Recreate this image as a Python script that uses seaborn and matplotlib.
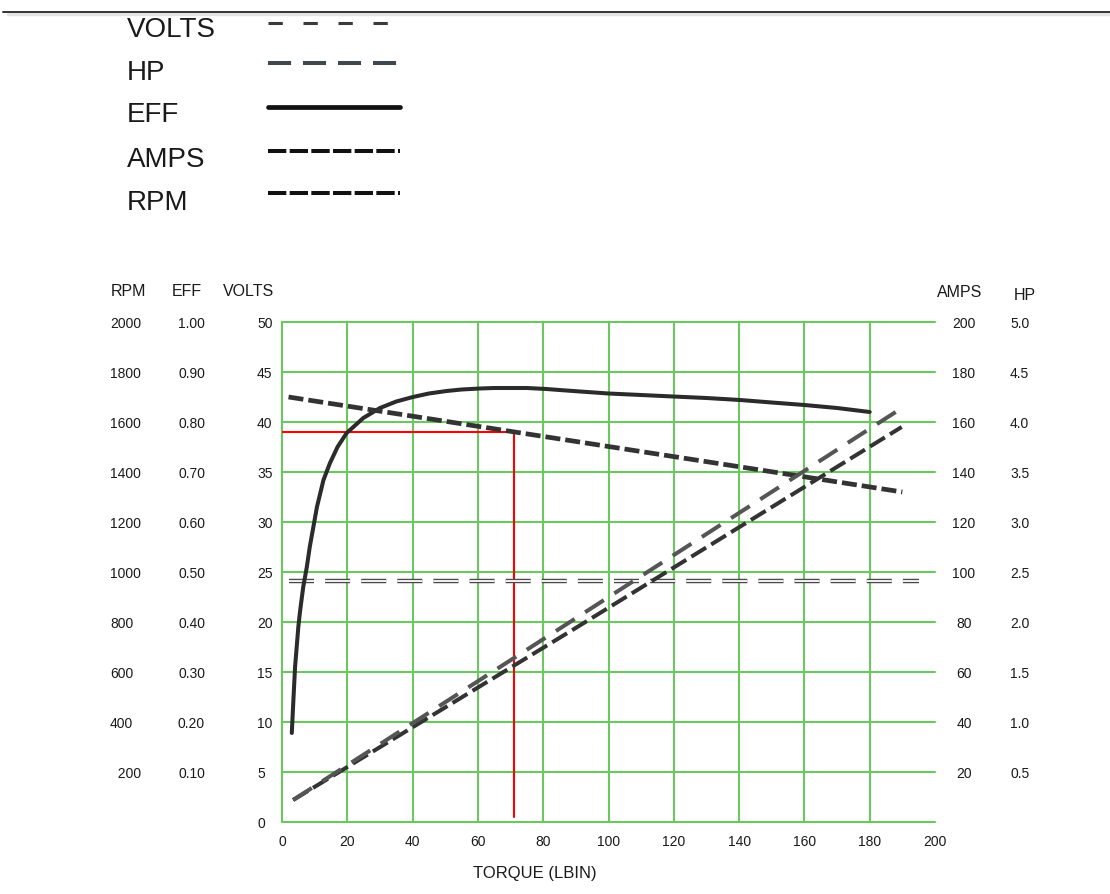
import matplotlib
matplotlib.use("Agg")
import matplotlib.pyplot as plt
from matplotlib.lines import Line2D
import seaborn as sns

# Motor performance curves
torque_eff = [3.0, 3.5, 4.0, 5.0, 5.5, 6.5, 7.6, 8.5, 9.6, 10.7, 12.7, 14.7, 17.0, 19.8,
              24.9, 30.0, 35.0, 40.1, 45.0, 50.4, 55.0, 60.6, 65.0, 70.8, 75.0, 81.0, 85.0,
              91.3, 100.0, 110.0, 119.8, 130.0, 140.3, 150.0, 160.0, 170.0, 180.0]
eff = [0.178, 0.245, 0.31, 0.39, 0.42, 0.47, 0.51, 0.55, 0.59, 0.63, 0.684, 0.718, 0.75, 0.778,
       0.808, 0.828, 0.841, 0.85, 0.857, 0.862, 0.865, 0.867, 0.868, 0.868, 0.868, 0.866, 0.864,
       0.861, 0.857, 0.854, 0.851, 0.848, 0.844, 0.839, 0.834, 0.828, 0.82]

torque_rpm = [2, 50, 100, 150, 190]
rpm = [1700, 1603, 1502, 1401, 1320]

torque_volts = [2, 195]
volts = [24.15, 24.15]

torque_hp = [3.4, 88.2, 190.8]
hp = [0.22, 2.0, 4.16]

torque_amps = [3.4, 89.2, 189.8]
amps = [8.8, 77, 158]

# red operating point guide
torque_red = [0, 71, 71]
volts_red = [39, 39, 0.5]

torque_ticks = list(range(0, 201, 20))
volts_ticks = list(range(0, 51, 5))
eff_ticks = [0.1, 0.2, 0.3, 0.4, 0.5, 0.6, 0.7, 0.8, 0.9, 1.0]
eff_labels = ["0.10", "0.20", "0.30", "0.40", "0.50", "0.60", "0.70", "0.80", "0.90", "1.00"]
rpm_ticks = [200, 400, 600, 800, 1000, 1200, 1400, 1600, 1800, 2000]
rpm_labels = ["  200", "400", "600", "800", "1000", "1200", "1400", "1600", "1800", "2000"]
amps_ticks = [20, 40, 60, 80, 100, 120, 140, 160, 180, 200]
hp_ticks = [0.5, 1.0, 1.5, 2.0, 2.5, 3.0, 3.5, 4.0, 4.5, 5.0]
hp_labels = ["0.5", "1.0", "1.5", "2.0", "2.5", "3.0", "3.5", "4.0", "4.5", "5.0"]

legend_names = ["VOLTS", "HP", "EFF", "AMPS", "RPM"]

sns.set_style("white")
plt.rcParams["font.family"] = ["Liberation Sans", "DejaVu Sans"]
plt.rcParams["lines.scale_dashes"] = False

W, H = 1110, 894
GREEN = "#6cc75e"
TEXT = "#1a1a1a"


def fx(px):
    return px / W


def fy(py):
    return 1 - py / H


fig = plt.figure(figsize=(W / 100, H / 100), dpi=100)
ax = fig.add_axes([fx(282), fy(822), 653 / W, 500 / H])
ax_eff = ax.twinx()
ax_rpm = ax.twinx()
ax_amps = ax.twinx()
ax_hp = ax.twinx()

for a in (ax, ax_eff, ax_rpm, ax_amps, ax_hp):
    for s in a.spines.values():
        s.set_visible(False)
    a.tick_params(length=0, labelsize=10, colors=TEXT)

ax.set_xlim(0, 200)
ax.set_ylim(0, 50)
ax_eff.set_ylim(0, 1)
ax_rpm.set_ylim(0, 2000)
ax_amps.set_ylim(0, 200)
ax_hp.set_ylim(0, 5)

# grid box
ax.set_xticks(torque_ticks)
ax.set_yticks(volts_ticks, [str(v) for v in volts_ticks])
ax.grid(True, color=GREEN, lw=1.5)
for g in ax.get_xgridlines() + ax.get_ygridlines():
    g.set_clip_on(False)
ax.get_xgridlines()[-1].set_visible(False)
ax.tick_params(axis="x", pad=9)
ax.tick_params(axis="y", pad=18)
plt.setp(ax.get_yticklabels(), ha="left")

ax_eff.yaxis.tick_left()
ax_eff.set_yticks(eff_ticks, eff_labels)
ax_eff.tick_params(axis="y", pad=55.4)

ax_rpm.yaxis.tick_left()
ax_rpm.set_yticks(rpm_ticks, rpm_labels)
ax_rpm.tick_params(axis="y", pad=123.8)
plt.setp(ax_rpm.get_yticklabels(), ha="left")

ax_amps.set_yticks(amps_ticks, [str(v) for v in amps_ticks])
ax_amps.tick_params(axis="y", pad=20.9)
plt.setp(ax_amps.get_yticklabels(), ha="center")

ax_hp.set_yticks(hp_ticks, hp_labels)
ax_hp.tick_params(axis="y", pad=54)

for a in (ax_eff, ax_rpm, ax_amps, ax_hp):
    a.grid(False)

ax.set_xlabel("TORQUE (LBIN)", fontsize=12, color=TEXT)
ax.xaxis.set_label_coords(0.387, -0.088)

# curves
sns.lineplot(x=torque_red, y=volts_red, ax=ax, estimator=None, sort=False,
             color="#ff0000", lw=1.5)

sns.lineplot(x=torque_volts, y=volts, ax=ax, estimator=None,
             color="#4a4a4a", lw=3.2, linestyle=(0, (18, 8)))
sns.lineplot(x=torque_volts, y=volts, ax=ax, estimator=None,
             color="white", lw=1.3, linestyle=(0, (18, 8)))

sns.lineplot(x=torque_eff, y=eff, ax=ax_eff, estimator=None,
             color="#2b2b2b", lw=2.9)

sns.lineplot(x=torque_rpm, y=rpm, ax=ax_rpm, estimator=None,
             color="#333333", lw=3.4, linestyle=(0, (10.8, 3.6)))

sns.lineplot(x=torque_hp, y=hp, ax=ax_hp, estimator=None,
             color="#555555", lw=2.9, linestyle=(0, (16, 9)))

sns.lineplot(x=torque_amps, y=amps, ax=ax_amps, estimator=None,
             color="#333333", lw=2.9, linestyle=(0, (12.5, 4.3)))

for a in (ax_eff, ax_rpm, ax_amps, ax_hp):
    a.set_xlim(0, 200)
    a.set_ylabel("")
ax.set_ylabel("")

# column headers
head_kw = dict(ha="center", va="baseline", fontsize=11.5, color=TEXT)
fig.text(fx(128.5), fy(296), "RPM", **head_kw)
fig.text(fx(187), fy(296), "EFF", **head_kw)
fig.text(fx(249), fy(296), "VOLTS", **head_kw)
fig.text(fx(960), fy(297), "AMPS", **head_kw)
fig.text(fx(1025), fy(300), "HP", **head_kw)

# legend block at the top
legend_base = [37, 80, 122, 167, 210]
legend_line_y = [22.7, 63.3, 106.7, 151, 193.3]
legend_styles = [
    dict(color="#3a3a3a", lw=2.2, linestyle=(0, (10.3, 14.9))),
    dict(color="#40474d", lw=2.9, linestyle=(0, (16.6, 8.6))),
    dict(color="#111111", lw=3.4, linestyle="-"),
    dict(color="#111111", lw=2.9, linestyle=(0, (13.2, 2.4))),
    dict(color="#111111", lw=2.9, linestyle=(0, (13.2, 2.4))),
]
for name, yb, yl, st in zip(legend_names, legend_base, legend_line_y, legend_styles):
    fig.text(fx(127), fy(yb), name, ha="left", va="baseline", fontsize=20, color=TEXT)
    fig.add_artist(Line2D([fx(268), fx(400)], [fy(yl), fy(yl)], **st))

# page edge line
fig.add_artist(Line2D([fx(8), fx(1110)], [fy(14), fy(14)], color="#e4e4e4", lw=2.5))
fig.add_artist(Line2D([fx(3), fx(1110)], [fy(11.5), fy(11.5)], color="#333333", lw=1.4))

fig.savefig("out.png", dpi=100, facecolor="white")
